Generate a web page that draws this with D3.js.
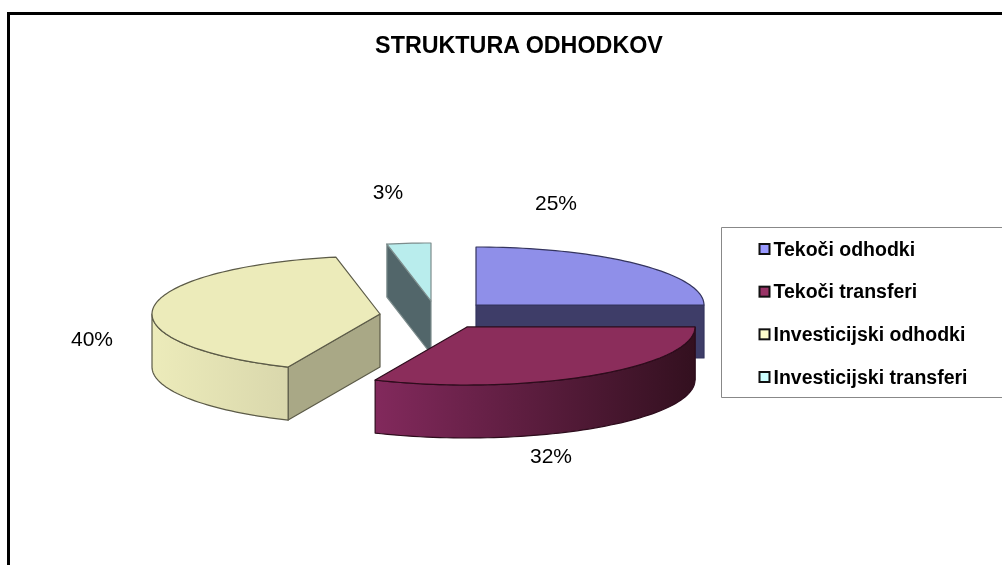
<!DOCTYPE html>
<html><head><meta charset="utf-8">
<style>html,body{margin:0;padding:0;background:#fff;overflow:hidden}svg{display:block;filter:blur(0.35px)}
text{font-family:"Liberation Sans",Arial,sans-serif;fill:#000}</style>
<script src="https://cdn.jsdelivr.net/npm/d3@7"></script></head><body><svg id="c" width="1002" height="565"></svg>
<script>
const titleText = "STRUKTURA ODHODKOV";
const categories = ["Tekoči odhodki","Tekoči transferi","Investicijski odhodki","Investicijski transferi"];
const values = [25, 31.6, 40.3, 3.1];
const labels = ["25%","32%","40%","3%"];
const topColors = ["#8f8fe9","#8b2d5b","#ecebba","#b9eded"];
const sideColors = ["#3e3d68","#5a1c3a","#a9a886","#52666a"];
const edgeColors = ["#34345e","#2d0c1c","#5c5b48","#7c8c8c"];
const legendColors = ["#9999ff","#993366","#ffffcc","#ccffff"];

const W=1002,H=565,svg=d3.select("#c");
const RX=228, RY=58, DEPTH=53;
const explode=[[476,305],[467,327],[380,314],[431,301]];
const labelPos=[[556,210],[551,463],[92,346],[388,199]];
const sx=d3.scaleLinear().domain([-1,1]).range([-RX,RX]);
const sy=d3.scaleLinear().domain([-1,1]).range([-RY,RY]);
const arcs=d3.pie().sort(null).value(d=>d)(values);
const pt=(a,i,dz=0)=>[explode[i][0]+sx(Math.sin(a)),explode[i][1]-sy(Math.cos(a))+dz];
function arcPts(a0,a1,i,dz=0){const n=Math.max(2,Math.ceil(Math.abs(a1-a0)/0.03));
  return d3.range(n+1).map(k=>pt(a0+(a1-a0)*k/n,i,dz));}
const line=d3.line();

svg.append("path").attr("d","M8.5,565V13.5H1002").attr("fill","none").attr("stroke","#000").attr("stroke-width",3);
svg.append("text").text(titleText).attr("x",519).attr("y",53).attr("text-anchor","middle").attr("font-weight","bold").attr("font-size",23.3);

const defs=svg.append("defs");
function grad(id,x0,x1,c0,c1){const g=defs.append("linearGradient").attr("id",id).attr("gradientUnits","userSpaceOnUse").attr("x1",x0).attr("x2",x1).attr("y1",0).attr("y2",0);
  g.append("stop").attr("offset",0).attr("stop-color",c0);g.append("stop").attr("offset",1).attr("stop-color",c1);}
grad("wall1",376,695,"#82295c","#33101f");
grad("wall2",153,290,"#ecebba","#d9d7ac");

const order=[3,0,2,1];
order.forEach(i=>{
  const d=arcs[i],a0=d.startAngle,a1=d.endAngle,c=explode[i];
  const g=svg.append("g").attr("stroke",edgeColors[i]).attr("stroke-width",1.2).attr("stroke-linejoin","round");
  // flat cut walls that face the viewer
  const wall=a=>{const sp=pt(a,i);
    g.append("path").attr("d",line([c,sp,[sp[0],sp[1]+DEPTH],[c[0],c[1]+DEPTH]])+"Z").attr("fill",sideColors[i]);};
  if(a0>Math.PI/2-1e-6 && a0>0) wall(a0);
  if(a1<=Math.PI/2+1e-6) wall(a1);
  // curved outer wall on the front half of the ellipse
  const f0=Math.max(a0,Math.PI/2),f1=Math.min(a1,1.5*Math.PI);
  if(f1>f0+1e-6){
    const top=arcPts(f0,f1,i),bot=arcPts(f1,f0,i,DEPTH);
    g.append("path").attr("d",line(top.concat(bot))+"Z").attr("fill",i===1?"url(#wall1)":i===2?"url(#wall2)":sideColors[i]);
  }
  g.append("path").attr("d",line([c].concat(arcPts(a0,a1,i)))+"Z").attr("fill",topColors[i]);
});

labels.forEach((t,i)=>svg.append("text").text(t).attr("x",labelPos[i][0]).attr("y",labelPos[i][1]).attr("text-anchor","middle").attr("font-size",21));

const legY=d3.scalePoint().domain(categories).range([249,377]);
svg.append("path").attr("d","M1002,227.5H721.5V397.5H1002").attr("fill","#fff").attr("stroke","#888");
categories.forEach((t,i)=>{
  const y=legY(t);
  svg.append("rect").attr("x",759.5).attr("y",y-5).attr("width",10).attr("height",10).attr("fill",legendColors[i]).attr("stroke","#111").attr("stroke-width",2);
  svg.append("text").text(t).attr("x",773.5).attr("y",y+6.5).attr("font-weight","bold").attr("font-size",19.5);
});
</script></body></html>
